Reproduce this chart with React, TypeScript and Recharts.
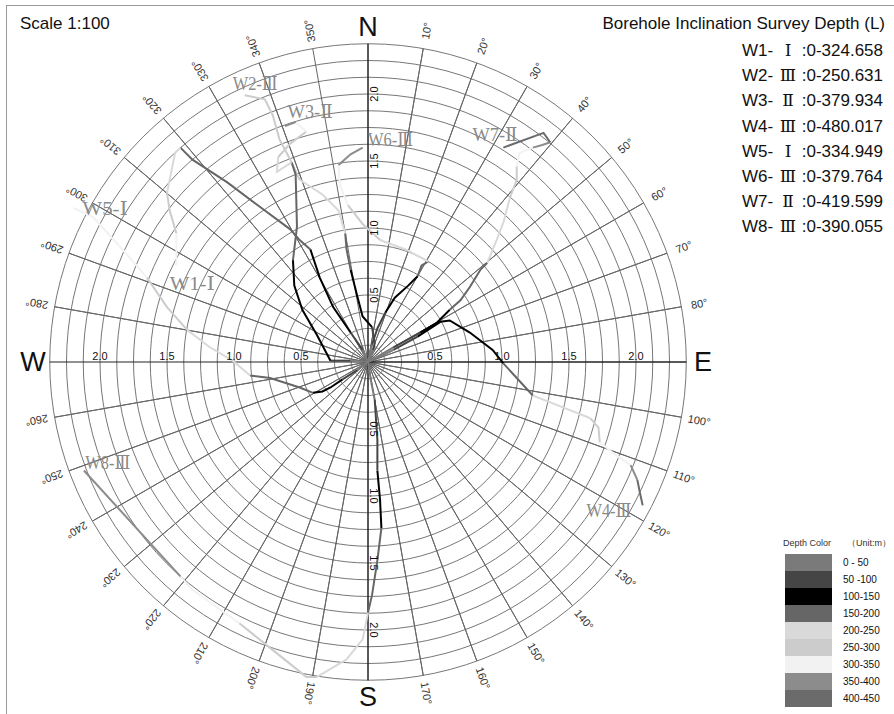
import React from "react";
import { ScatterChart, Scatter, XAxis, YAxis } from "recharts";

// [east, north, depth band of the segment reaching this point]
type P = [number, number, number];

const W = 894;
const H = 714;
const CX = 368; // pixel position of the collar (centre)
const CY = 362;
const PX = 134; // pixels per metre of offset

const RING_TICKS = [
  0.125, 0.25, 0.375, 0.5, 0.625, 0.75, 0.875, 1.0, 1.125, 1.25, 1.375, 1.5,
  1.625, 1.75, 1.875, 2.0, 2.125, 2.25, 2.375,
];
const AXIS_TICKS = [0.5, 1.0, 1.5, 2.0];
const AXIS_TICK_LABELS = ["0.5", "1.0", "1.5", "2.0"];
const DEGREE_TICKS = [
  10, 20, 30, 40, 50, 60, 70, 80, 100, 110, 120, 130, 140, 150, 160, 170, 190,
  200, 210, 220, 230, 240, 250, 260, 280, 290, 300, 310, 320, 330, 340, 350,
];
const COMPASS = ["N", "E", "S", "W"];
const COMPASS_DEG = [0, 90, 180, 270];

const BAND_LABELS = [
  "0 - 50", "50 -100", "100-150", "150-200", "200-250",
  "250-300", "300-350", "350-400", "400-450",
];
const BAND_COLORS = [
  "#7a7a7a", "#454545", "#000000", "#666666", "#d9d9d9",
  "#cccccc", "#f2f2f2", "#8c8c8c", "#6b6b6b",
];

const WELL_NAMES = ["W1", "W2", "W3", "W4", "W5", "W6", "W7", "W8"];
const WELL_GRADES = ["Ⅰ", "Ⅲ", "Ⅱ", "Ⅲ", "Ⅰ", "Ⅲ", "Ⅱ", "Ⅲ"];
const WELL_DEPTHS = [
  "324.658", "250.631", "379.934", "480.017",
  "334.949", "379.764", "419.599", "390.055",
];

const W1: P[] = [
  [0, 0, 0], [-0.04, 0.09, 0], [-0.13, 0.22, 1], [-0.26, 0.41, 2],
  [-0.36, 0.63, 2], [-0.43, 0.84, 2], [-0.51, 0.91, 3], [-0.58, 0.99, 3],
  [-0.81, 1.16, 3], [-1.05, 1.34, 3], [-1.31, 1.51, 3], [-1.4, 1.6, 3],
  [-1.44, 1.56, 4], [-1.5, 1.26, 4], [-1.48, 1.13, 5], [-1.43, 0.96, 5],
  [-1.43, 0.72, 6],
];
const W2: P[] = [
  [0, 0, 0], [0.04, 0.09, 0], [0.05, 0.14, 1], [0.03, 0.26, 1],
  [-0.04, 0.34, 2], [-0.08, 0.49, 2], [-0.13, 0.69, 2], [-0.16, 0.84, 3],
  [-0.17, 0.96, 3], [-0.22, 1.13, 4], [-0.34, 1.25, 4], [-0.51, 1.36, 4],
  [-0.58, 1.51, 5], [-0.66, 1.66, 5], [-0.71, 1.84, 5], [-0.77, 1.96, 5],
  [-0.92, 1.99, 5],
];
const W3: P[] = [
  [0, 0, 0], [-0.13, 0.01, 0], [-0.28, 0.01, 1], [-0.38, 0.2, 2],
  [-0.49, 0.39, 2], [-0.55, 0.57, 2], [-0.56, 0.76, 2], [-0.53, 1.01, 3],
  [-0.54, 1.4, 3], [-0.57, 1.49, 3], [-0.68, 1.42, 4], [-0.67, 1.53, 4],
  [-0.58, 1.63, 5], [-0.46, 1.72, 5], [-0.54, 1.79, 6], [-0.62, 1.76, 7],
];
const W4: P[] = [
  [0, 0, 0], [0.09, 0.04, 0], [0.19, 0.09, 0], [0.37, 0.19, 1],
  [0.54, 0.3, 2], [0.61, 0.31, 2], [0.76, 0.22, 2], [0.93, 0.09, 2],
  [1.01, -0.01, 2], [1.23, -0.25, 3], [1.46, -0.34, 4], [1.66, -0.42, 4],
  [1.72, -0.49, 5], [1.73, -0.6, 5], [1.83, -0.68, 6], [1.96, -0.77, 6],
  [2.01, -0.88, 7], [2.03, -0.98, 8], [2.05, -1.07, 8],
];
const W5: P[] = [
  [0, 0, 0], [-0.08, -0.06, 0], [-0.19, -0.13, 1], [-0.28, -0.19, 2],
  [-0.34, -0.22, 2], [-0.41, -0.23, 2], [-0.51, -0.19, 3], [-0.73, -0.12, 3],
  [-0.88, -0.1, 3], [-1.01, 0.01, 4], [-1.18, 0.11, 4], [-1.35, 0.24, 4],
  [-1.5, 0.41, 5], [-1.65, 0.63, 5], [-1.85, 0.86, 6], [-2.05, 1.08, 6],
  [-2.2, 1.15, 6],
];
const W6: P[] = [
  [0, 0, 0], [0.03, 0.13, 0], [0.07, 0.25, 1], [0.13, 0.37, 1],
  [0.2, 0.48, 2], [0.3, 0.57, 2], [0.37, 0.64, 2], [0.4, 0.72, 3],
  [0.45, 0.75, 3], [0.28, 0.84, 4], [0.09, 0.91, 4], [-0.04, 1.03, 5],
  [-0.15, 1.17, 5], [-0.21, 1.32, 6], [-0.22, 1.47, 6], [-0.13, 1.55, 7],
  [-0.04, 1.6, 7],
];
const W7: P[] = [
  [0, 0, 0], [0.19, 0.11, 0], [0.39, 0.22, 1], [0.51, 0.29, 2],
  [0.61, 0.39, 2], [0.69, 0.46, 3], [0.76, 0.56, 3], [0.84, 0.69, 3],
  [0.89, 0.74, 3], [0.96, 0.91, 4], [1.01, 1.04, 4], [1.06, 1.23, 4],
  [1.11, 1.36, 5], [1.11, 1.46, 5], [1.13, 1.56, 6], [1.23, 1.6, 6],
  [1.3, 1.62, 7], [1.36, 1.64, 7], [1.31, 1.71, 8], [1.01, 1.6, 8],
];
const W8: P[] = [
  [0, 0, 0], [0.02, -0.13, 0], [0.05, -0.28, 0], [0.07, -0.58, 1],
  [0.07, -0.81, 1], [0.09, -1.03, 2], [0.1, -1.24, 2], [0.07, -1.48, 3],
  [0.03, -1.74, 3], [0.0, -1.87, 3], [-0.04, -2.07, 4], [-0.16, -2.22, 4],
  [-0.38, -2.35, 4], [-0.46, -2.35, 5], [-0.71, -2.15, 5], [-0.96, -1.95, 5],
  [-1.31, -1.7, 6], [-1.4, -1.6, 6], [-2.12, -0.81, 7],
];
const WELLS = [W1, W2, W3, W4, W5, W6, W7, W8];

// where each well's name is written on the plot (east, north)
const WELL_LABEL_AT: [number, number][] = [
  [-1.48, 0.54], [-1.01, 2.03], [-0.6, 1.82], [1.63, -1.16],
  [-2.13, 1.1], [0.0, 1.61], [0.78, 1.65], [-2.11, -0.8],
];

const SANS = "'Liberation Sans', Arial, sans-serif";
const SERIF = "'Liberation Serif', 'DejaVu Serif', 'Noto Sans CJK SC', serif";

const polar = (r: number, deg: number) => ({
  x: r * Math.sin((deg * Math.PI) / 180),
  y: r * Math.cos((deg * Math.PI) / 180),
});

function toSegments(pts: P[]) {
  const segs: { band: number; data: { x: number; y: number }[] }[] = [];
  for (let i = 1; i < pts.length; i++) {
    const band = pts[i][2];
    const last = segs[segs.length - 1];
    if (!last || last.band !== band) {
      segs.push({ band, data: [{ x: pts[i - 1][0], y: pts[i - 1][1] }] });
    }
    segs[segs.length - 1].data.push({ x: pts[i][0], y: pts[i][1] });
  }
  return segs;
}

const OUTER = RING_TICKS[RING_TICKS.length - 1];
const ringData = RING_TICKS.map((r) =>
  Array.from({ length: 121 }, (_, i) => polar(r, i * 3))
);
const spokeData = Array.from({ length: 36 }, (_, i) => i * 10)
  .filter((d) => d % 90 !== 0)
  .flatMap((d) => [{ x: 0, y: 0 }, polar(OUTER, d)]);
const axisData = COMPASS_DEG.flatMap((d) => [{ x: 0, y: 0 }, polar(OUTER, d)]);

const degreeData = DEGREE_TICKS.map((d) => ({ ...polar(2.51, d), deg: d }));
const compassData = COMPASS.map((c, i) => ({ ...polar(2.5, COMPASS_DEG[i]), label: c }));
const tickData = AXIS_TICKS.flatMap((r, i) =>
  COMPASS_DEG.map((d) => ({ ...polar(r, d), deg: d, label: AXIS_TICK_LABELS[i] }))
);
const wellLabelData = WELL_NAMES.map((n, i) => ({
  x: WELL_LABEL_AT[i][0],
  y: WELL_LABEL_AT[i][1],
  label: `${n}-${WELL_GRADES[i]}`,
}));

const NoDot = () => null;

const DegreeLabel = (p: any) => (
  <text
    x={p.cx}
    y={p.cy}
    transform={`rotate(${p.payload.deg - 90} ${p.cx} ${p.cy})`}
    textAnchor="middle"
    dominantBaseline="central"
    fontSize={11}
    fontFamily={SANS}
    fill="#333"
  >
    {p.payload.deg}°
  </text>
);

const CompassLabel = (p: any) => (
  <text
    x={p.cx}
    y={p.cy}
    textAnchor="middle"
    dominantBaseline="central"
    fontSize={27}
    fontFamily={SANS}
    fill="#111"
  >
    {p.payload.label}
  </text>
);

const TickLabel = (p: any) => {
  const { cx, cy, payload } = p;
  const common = { fontSize: 11, fontFamily: SANS, fill: "#111", textAnchor: "middle" as const };
  if (payload.deg === 0)
    return <text {...common} transform={`translate(${cx + 10} ${cy}) rotate(-90)`}>{payload.label}</text>;
  if (payload.deg === 180)
    return <text {...common} transform={`translate(${cx + 2} ${cy}) rotate(90)`}>{payload.label}</text>;
  return <text {...common} x={cx} y={cy - 2}>{payload.label}</text>;
};

const WellLabel = (p: any) => (
  <text
    x={p.cx}
    y={p.cy}
    fontSize={18}
    fontFamily={SERIF}
    fill="#8a8a8a"
    textLength={45}
    lengthAdjust="spacingAndGlyphs"
  >
    {p.payload.label}
  </text>
);

export default function App() {
  return (
    <div style={{ position: "relative", width: W, height: H, background: "#fff" }}>
      <style>{"body{margin:0}"}</style>
      <ScatterChart width={W} height={H} margin={{ top: 0, right: 0, bottom: 0, left: 0 }}>
        <XAxis
          type="number"
          dataKey="x"
          hide
          domain={[-CX / PX, (W - CX) / PX]}
          allowDataOverflow
        />
        <YAxis
          type="number"
          dataKey="y"
          hide
          domain={[-(H - CY) / PX, CY / PX]}
          allowDataOverflow
        />
        {ringData.map((d, i) => (
          <Scatter
            key={`ring${i}`}
            data={d}
            fill="none"
            line={{ stroke: "#777", strokeWidth: 1 }}
            shape={NoDot}
            isAnimationActive={false}
          />
        ))}
        <Scatter
          data={spokeData}
          fill="none"
          line={{ stroke: "#666", strokeWidth: 1 }}
          shape={NoDot}
          isAnimationActive={false}
        />
        <Scatter
          data={axisData}
          fill="none"
          line={{ stroke: "#222", strokeWidth: 1 }}
          shape={NoDot}
          isAnimationActive={false}
        />
        {WELLS.flatMap((w, wi) =>
          toSegments(w).map((s, si) => (
            <Scatter
              key={`w${wi}-${si}`}
              data={s.data}
              fill="none"
              line={{ stroke: BAND_COLORS[s.band], strokeWidth: 2 }}
              shape={NoDot}
              isAnimationActive={false}
            />
          ))
        )}
        <Scatter data={degreeData} shape={DegreeLabel} isAnimationActive={false} />
        <Scatter data={compassData} shape={CompassLabel} isAnimationActive={false} />
        <Scatter data={tickData} shape={TickLabel} isAnimationActive={false} />
        <Scatter data={wellLabelData} shape={WellLabel} isAnimationActive={false} />
      </ScatterChart>

      <svg
        width={W}
        height={H}
        style={{ position: "absolute", left: 0, top: 0, pointerEvents: "none" }}
        fontFamily={SANS}
      >
        <line x1={6} y1={5.5} x2={W} y2={5.5} stroke="#999" />
        <line x1={6.5} y1={5} x2={6.5} y2={H} stroke="#999" />
        <text x={20} y={29} fontSize={17} fill="#111">Scale 1:100</text>
        <text x={885} y={29} fontSize={17} fill="#111" textAnchor="end">
          Borehole Inclination Survey Depth (L)
        </text>
        {WELL_NAMES.map((n, i) => (
          <g key={n} fontSize={17} fill="#111">
            <text x={742} y={56 + i * 25.2}>{`${n}-`}</text>
            <text x={788} y={56 + i * 25.2} textAnchor="middle" fontFamily={SERIF}>
              {WELL_GRADES[i]}
            </text>
            <text x={883} y={56 + i * 25.2} textAnchor="end">{`:0-${WELL_DEPTHS[i]}`}</text>
          </g>
        ))}
        <text x={783} y={546} fontSize={9} fill="#333">Depth Color</text>
        <text x={847} y={546} fontSize={9} fill="#333">（Unit:m）</text>
        {BAND_LABELS.map((b, i) => (
          <g key={b}>
            <rect x={785} y={554 + i * 17} width={47} height={17} fill={BAND_COLORS[i]} />
            <text x={843} y={566 + i * 17} fontSize={10} fill="#111">{b}</text>
          </g>
        ))}
      </svg>
    </div>
  );
}
